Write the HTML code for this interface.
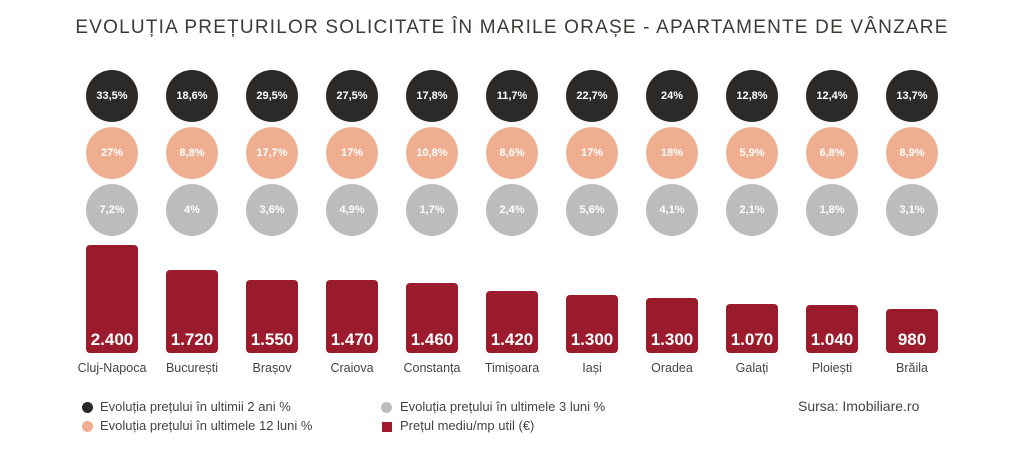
<!DOCTYPE html>
<html><head><meta charset="utf-8"><style>
body{margin:0;width:1024px;height:460px;background:#fff;font-family:"Liberation Sans",sans-serif;position:relative;overflow:hidden}
.t{position:absolute;left:0;width:1024px;top:17px;text-align:center;font-size:19px;letter-spacing:1.2px;color:#3d3a38}
.c{position:absolute;width:52px;height:52px;border-radius:50%;color:#fff;font-weight:bold;font-size:11px;text-align:center;line-height:52px}
.b{position:absolute;width:52px;background:#9a1b2b;border-radius:4px;color:#fff;font-weight:bold;font-size:17px;text-align:center;box-sizing:border-box;padding-top:0}
.b span{position:absolute;bottom:3px;left:0;width:100%}
.n{position:absolute;width:100px;text-align:center;font-size:12.5px;color:#444;top:361px}
.l{position:absolute;font-size:13px;color:#444}
.d{position:absolute;width:11px;height:11px;border-radius:50%}
</style></head><body>
<div class="t">EVOLUȚIA PREȚURILOR SOLICITATE ÎN MARILE ORAȘE - APARTAMENTE DE VÂNZARE</div>
<div id="g"></div>
<div class="d" style="left:82px;top:402px;background:#2b2a29"></div><div class="l" style="left:100px;top:399px">Evoluția prețului în ultimii 2 ani %</div>
<div class="d" style="left:82px;top:421px;background:#eeae8f"></div><div class="l" style="left:100px;top:418px">Evoluția prețului în ultimele 12 luni %</div>
<div class="d" style="left:381px;top:402px;background:#bdbcbc"></div><div class="l" style="left:400px;top:399px">Evoluția prețului în ultimele 3 luni %</div>
<div style="position:absolute;left:382px;top:422px;width:10px;height:10px;background:#a3172a"></div><div class="l" style="left:400px;top:418px">Prețul mediu/mp util (€)</div>
<div class="l" style="left:798px;top:398px;font-size:14px">Sursa: Imobiliare.ro</div>
<script>
var d=[["Cluj-Napoca","33,5%","27%","7,2%","2.400",245],["București","18,6%","8,8%","4%","1.720",270],["Brașov","29,5%","17,7%","3,6%","1.550",280],["Craiova","27,5%","17%","4,9%","1.470",280],["Constanța","17,8%","10,8%","1,7%","1.460",283],["Timișoara","11,7%","8,6%","2,4%","1.420",291],["Iași","22,7%","17%","5,6%","1.300",295],["Oradea","24%","18%","4,1%","1.300",298],["Galați","12,8%","5,9%","2,1%","1.070",304],["Ploiești","12,4%","6,8%","1,8%","1.040",305],["Brăila","13,7%","8,9%","3,1%","980",309]];
var h="";d.forEach(function(r,i){var cx=112+i*80;
h+='<div class="c" style="left:'+(cx-26)+'px;top:70px;background:#2b2a29">'+r[1]+'</div>';
h+='<div class="c" style="left:'+(cx-26)+'px;top:127px;background:#eeae8f">'+r[2]+'</div>';
h+='<div class="c" style="left:'+(cx-26)+'px;top:184px;background:#bdbcbc">'+r[3]+'</div>';
h+='<div class="b" style="left:'+(cx-26)+'px;top:'+r[5]+'px;height:'+(353-r[5])+'px"><span>'+r[4]+'</span></div>';
h+='<div class="n" style="left:'+(cx-50)+'px">'+r[0]+'</div>';});
document.getElementById("g").innerHTML=h;
</script>
</body></html>
